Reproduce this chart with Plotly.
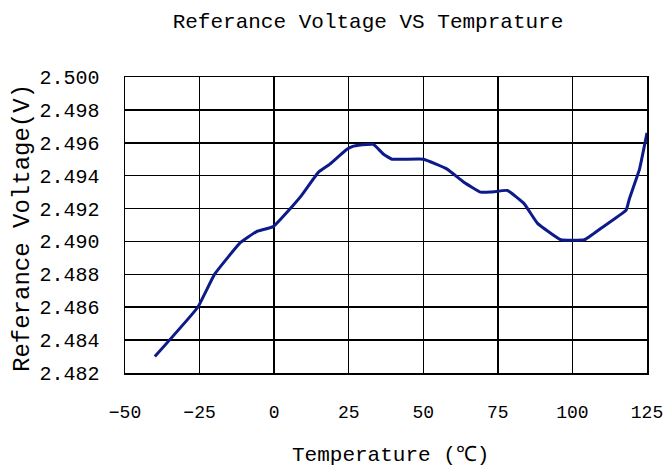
import plotly.graph_objects as go

temperature = [-40, -25.6, -20, -11.5, -5.9, -0.3, 5.9, 9.2, 14.8, 18.7, 24.4, 26.6, 31.1, 33.3,
               36.7, 39.5, 50.1, 58.0, 63.6, 69.2, 72.5, 78.2, 83.8, 88.3, 96.1, 104.0, 109.6,
               118.0, 119.1, 122.5, 125.0]
voltage = [2.4830, 2.4860, 2.4880, 2.4899, 2.4906, 2.4909, 2.4921, 2.4928, 2.4942, 2.4947,
           2.4956, 2.4958, 2.4959, 2.4959, 2.4953, 2.4950, 2.4950, 2.4944, 2.4936, 2.4930,
           2.4930, 2.4931, 2.4923, 2.4911, 2.4901, 2.4901, 2.4908, 2.4919, 2.4926, 2.4944,
           2.4966]

x_ticks = [-50, -25, 0, 25, 50, 75, 100, 125]
x_tick_text = ["−50", "−25", "0", "25", "50", "75", "100", "125"]
y_ticks = [2.482, 2.484, 2.486, 2.488, 2.490, 2.492, 2.494, 2.496, 2.498, 2.500]

title_text = "Referance Voltage VS Temprature"
x_title = "Temperature (℃)"
y_title = "Referance Voltage(V)"

FONT = "Liberation Mono, DejaVu Sans Mono, monospace"

W, H = 663, 470
L, R, T, B = 125, 16, 77, 97
PW, PH = W - L - R, H - T - B

fig = go.Figure()
fig.add_trace(go.Scatter(
    x=temperature, y=voltage, mode="lines",
    line=dict(color="#0d1a8a", width=3, shape="spline", smoothing=0.3),
    showlegend=False, hoverinfo="skip",
))

fig.update_layout(
    width=W, height=H,
    margin=dict(l=L, r=R, t=T, b=B, autoexpand=False),
    paper_bgcolor="white", plot_bgcolor="white",
    font=dict(family=FONT, color="black", size=20),
    title=dict(text=title_text, x=368 / W, xanchor="center", y=1 - 21 / H,
               yanchor="middle", xref="container", yref="container",
               font=dict(family=FONT, size=21, color="black")),
    xaxis=dict(range=[-50, 125], tickvals=x_ticks, ticktext=x_tick_text, automargin=False,
               showgrid=True, gridcolor="black", gridwidth=1.5,
               showline=True, linecolor="black", linewidth=1.5, mirror=True,
               zeroline=False, ticks="", ticklabelstandoff=22, ticklabeloverflow="allow",
               tickfont=dict(family=FONT, size=18, color="black")),
    yaxis=dict(range=[2.482, 2.500], tickvals=y_ticks, tickformat=".3f", automargin=False,
               showgrid=True, gridcolor="black", gridwidth=1.5,
               showline=True, linecolor="black", linewidth=1.5, mirror=True,
               zeroline=False, ticks="", ticklabelstandoff=20,
               tickfont=dict(family=FONT, size=20, color="black")),
    annotations=[
        dict(text=x_title, xref="paper", yref="paper", x=(390 - 125) / PW, y=-(455 - 373) / PH,
             xanchor="center", yanchor="middle", showarrow=False,
             font=dict(family=FONT, size=21, color="black")),
        dict(text=y_title, xref="paper", yref="paper", x=-(125 - 22) / PW, y=(373 - 228) / PH,
             xanchor="center", yanchor="middle", showarrow=False, textangle=-90,
             font=dict(family=FONT, size=24, color="black")),
    ],
)

fig.write_html(
    "out.html",
    config={"displayModeBar": False, "staticPlot": True},
    post_script="document.body.style.margin='0';document.body.style.overflow='hidden';",
)
